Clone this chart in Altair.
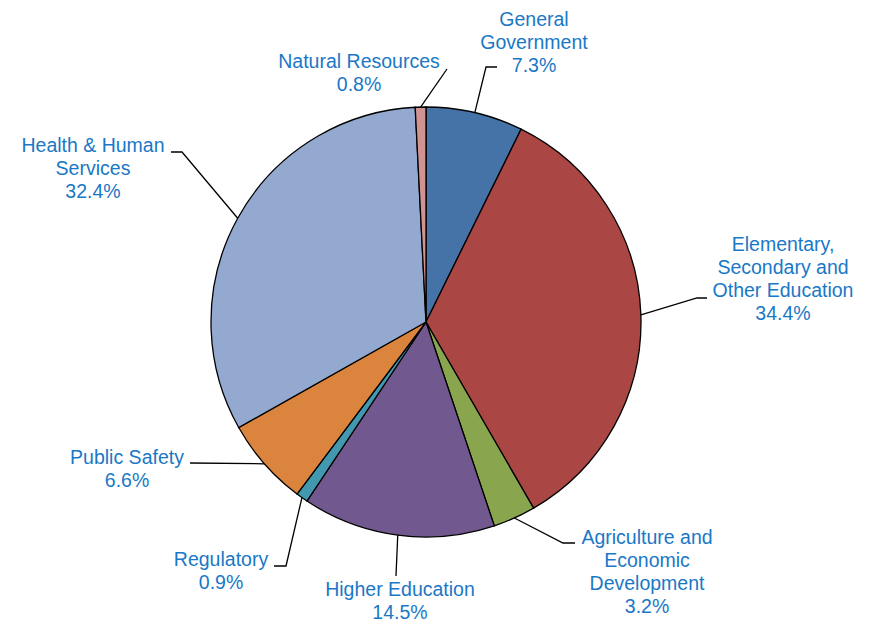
import altair as alt
import pandas as pd
import math

# ---- data ----
categories = [
    "General Government",
    "Elementary, Secondary and Other Education",
    "Agriculture and Economic Development",
    "Higher Education",
    "Regulatory",
    "Public Safety",
    "Health & Human Services",
    "Natural Resources",
]
label_lines = [
    ["General", "Government"],
    ["Elementary,", "Secondary and", "Other Education"],
    ["Agriculture and", "Economic", "Development"],
    ["Higher Education"],
    ["Regulatory"],
    ["Public Safety"],
    ["Health & Human", "Services"],
    ["Natural Resources"],
]
values = [7.3, 34.4, 3.2, 14.5, 0.9, 6.6, 32.4, 0.8]
colors = ["#4572A7", "#AA4643", "#89A54E", "#71588F",
          "#4198AF", "#DB843D", "#93A9CF", "#D19392"]

# ---- layout (plot-area pixels) ----
W, H = 864, 615
CX, CY, R = 418, 314, 215
label_pos = [  # centre x, middle y of first label line
    (526, 12), (775, 237), (639, 530), (392, 582),
    (213, 552), (119, 450), (85, 138), (351, 54),
]
leader_tail = [  # elbow / end points after the edge point
    [(478, 59), (489, 59)],
    [(689, 290), (699, 290)],
    [(555, 535), (567, 535)],
    [(388, 568)],
    [(278, 558), (266, 558)],
    [(182, 455)],
    [(174, 144), (163, 144)],
    [(439, 61)],
]

total = sum(values)
df = pd.DataFrame({"category": categories, "value": values,
                   "order": list(range(len(values)))})

label_rows, line_rows = [], []
cum = 0.0
for i, (c, v) in enumerate(zip(categories, values)):
    mid = (cum + v / 2) / total * 2 * math.pi
    cum += v
    ex, ey = CX + R * math.sin(mid), CY - R * math.cos(mid)
    pts = [(ex, ey)] + leader_tail[i]
    for k, (px, py) in enumerate(pts):
        line_rows.append({"category": c, "seq": k, "px": px, "py": py})
    lx, ly = label_pos[i]
    label_rows.append({"category": c, "lx": lx, "ly": ly,
                       "text": label_lines[i] + [f"{v:.1f}%"]})

lines_df = pd.DataFrame(line_rows)
labels_df = pd.DataFrame(label_rows)

xs = alt.Scale(domain=[0, W])
ys = alt.Scale(domain=[0, H], reverse=True)

pie = alt.Chart(df).mark_arc(radius=R, stroke="black", strokeWidth=1.3).encode(
    theta=alt.Theta("value:Q", stack=True),
    color=alt.Color("category:N", scale=alt.Scale(domain=categories, range=colors), legend=None),
    order=alt.Order("order:Q"),
    x=alt.value(CX),
    y=alt.value(CY),
)

leaders = alt.Chart(lines_df).mark_line(color="black", strokeWidth=1.3).encode(
    x=alt.X("px:Q", scale=xs, axis=None),
    y=alt.Y("py:Q", scale=ys, axis=None),
    detail="category:N",
    order="seq:Q",
)

labels = alt.Chart(labels_df).mark_text(
    font="Liberation Sans", fontSize=19.5, lineHeight=23, color="#1A78C6",
    align="center", baseline="middle",
).encode(
    x=alt.X("lx:Q", scale=xs, axis=None),
    y=alt.Y("ly:Q", scale=ys, axis=None),
    text="text",
)

chart = alt.layer(leaders, pie, labels).properties(
    width=W, height=H, padding=0, autosize="none"
).configure_view(stroke=None)

chart.save("out.html", embed_options={"renderer": "svg", "actions": False})
